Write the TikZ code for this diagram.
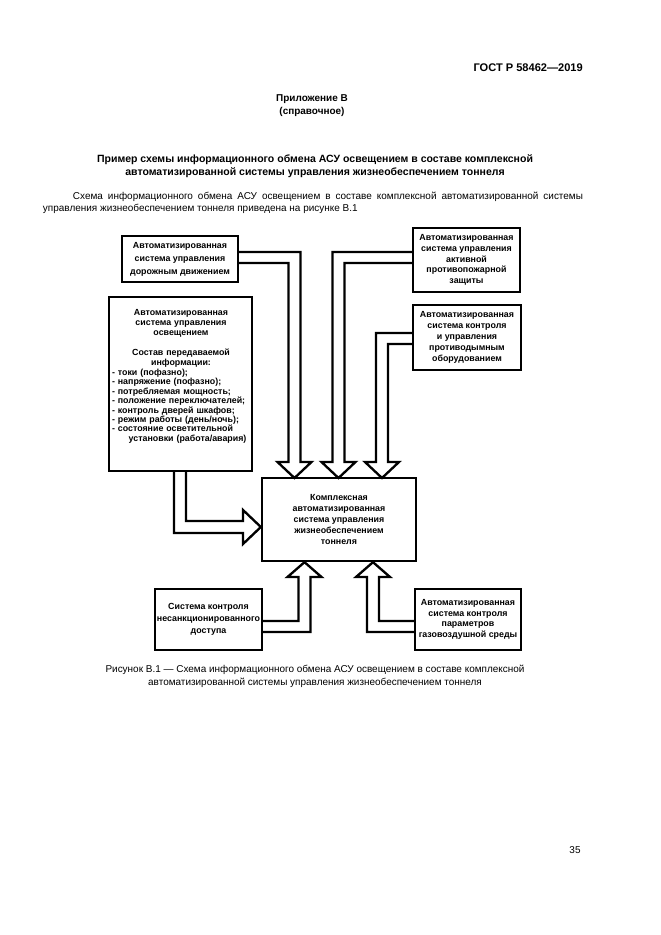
\documentclass[tikz,border=0pt]{standalone}
\usepackage{fontspec}
\setmainfont{Liberation Sans}
\begin{document}
\begin{tikzpicture}[x=0.9bp,y=-0.9bp,
  frame/.style={draw, line width=2.1bp, inner sep=0pt},
  btext/.style={align=center, inner sep=0pt, font=\bfseries\fontsize{8}{#1}\selectfont},
  blockarrow/.style={draw, line width=2.1bp, line join=miter},
  pagetext/.style={inner sep=0pt, font=\fontsize{9}{11}\selectfont}
]
\useasboundingbox (0,0) rectangle (661,935);

% page texts
\node[anchor=east, inner sep=0pt, font=\bfseries\fontsize{10}{12}\selectfont] (hdr) at (583,68) {ГОСТ Р 58462—2019};
\node[align=center, inner sep=0pt, font=\bfseries\fontsize{9}{11.7}\selectfont] (app) at (312,106) {Приложение В\\(справочное)};
\node[align=center, inner sep=0pt, font=\bfseries\fontsize{9.5}{11.7}\selectfont] (ttl) at (315,166) {Пример схемы информационного обмена АСУ освещением в составе комплексной\\автоматизированной системы управления жизнеобеспечением тоннеля};
\node[pagetext, text width=486bp, align=justify] (body) at (313,203) {\hspace*{27bp}Схема информационного обмена АСУ освещением в составе комплексной автоматизированной системы\linebreak управления жизнеобеспечением тоннеля приведена на рисунке В.1};
\node[pagetext, align=center, font=\fontsize{9}{11.7}\selectfont] (cap) at (315,676.5) {Рисунок В.1 — Схема информационного обмена АСУ освещением в составе комплексной\\автоматизированной системы управления жизнеобеспечением тоннеля};
\node[pagetext] (pg) at (575,850) {35};

% boxes
\node[frame, minimum width={116*0.9bp}, minimum height={46*0.9bp}] (b1) at (180,259) {};
\node[btext=11.7bp] (b1t) at (b1.center) {Автоматизированная\\система управления\\дорожным движением};

\node[frame, minimum width={143*0.9bp}, minimum height={174*0.9bp}] (b2) at (180.5,384) {};
\node[inner sep=0pt, text width={138*0.9bp}, align=left, font=\bfseries\fontsize{8}{8.5}\selectfont] (b2t) at (181,376.5) {{\centering\baselineskip=9bp Автоматизированная\\система управления\\освещением\\[9bp]Состав передаваемой\\информации:\par}
- токи (пофазно);\\
- напряжение (пофазно);\\
- потребляемая мощность;\\
- положение переключателей;\\
- контроль дверей шкафов;\\
- режим работы (день/ночь);\\
- состояние осветительной\\
\hspace*{15bp}установки (работа/авария)};

\node[frame, minimum width={107*0.9bp}, minimum height={64*0.9bp}] (b3) at (466.5,260) {};
\node[btext=9.7bp] (b3t) at (b3.center) {Автоматизированная\\система управления\\активной\\противопожарной\\защиты};

\node[frame, minimum width={108*0.9bp}, minimum height={65*0.9bp}] (b4) at (467,337.5) {};
\node[btext=10bp] (b4t) at (b4.center) {Автоматизированная\\система контроля\\и управления\\противодымным\\оборудованием};

\node[frame, minimum width={154*0.9bp}, minimum height={83*0.9bp}] (c) at (339,519.5) {};
\node[btext=9.9bp] (ct) at (c.center) {Комплексная\\автоматизированная\\система управления\\жизнеобеспечением\\тоннеля};

\node[frame, minimum width={107*0.9bp}, minimum height={61*0.9bp}] (b5) at (208.5,619.5) {};
\node[btext=10.8bp] (b5t) at (b5.center) {Система контроля\\несанкционированного\\доступа};

\node[frame, minimum width={106*0.9bp}, minimum height={61*0.9bp}] (b6) at (468,619.5) {};
\node[btext=9.6bp] (b6t) at (b6.center) {Автоматизированная\\система контроля\\параметров\\газовоздушной среды};

% block arrows
% b1 -> c
\draw[blockarrow] (b1.east |- 0,252) -- (300.5,252) -- (300.5,462) -- (311.5,462) -- (294.5,478) -- (277.5,462) -- (288.5,462) -- (288.5,263) -- (b1.east |- 0,263);
% b3 -> c
\draw[blockarrow] (b3.west |- 0,252) -- (332.5,252) -- (332.5,462) -- (321.5,462) -- (338.5,478) -- (355.5,462) -- (344.5,462) -- (344.5,263) -- (b3.west |- 0,263);
% b4 -> c
\draw[blockarrow] (b4.west |- 0,333) -- (376,333) -- (376,462) -- (365,462) -- (382,478) -- (399,462) -- (388,462) -- (388,344) -- (b4.west |- 0,344);
% b2 -> c
\draw[blockarrow] (b2.south -| 174,0) -- (174,533) -- (243,533) -- (243,544) -- (c.west |- 0,527) -- (243,510) -- (243,521) -- (186,521) -- (b2.south -| 186,0);
% b5 -> c
\draw[blockarrow] (b5.east |- 0,621) -- (298.5,621) -- (298.5,577) -- (287.5,577) -- (c.south -| 304.5,0) -- (321.5,577) -- (310.5,577) -- (310.5,632) -- (b5.east |- 0,632);
% b6 -> c
\draw[blockarrow] (b6.west |- 0,621) -- (379,621) -- (379,577) -- (390,577) -- (c.south -| 373,0) -- (356,577) -- (367,577) -- (367,632) -- (b6.west |- 0,632);
\end{tikzpicture}
\end{document}
